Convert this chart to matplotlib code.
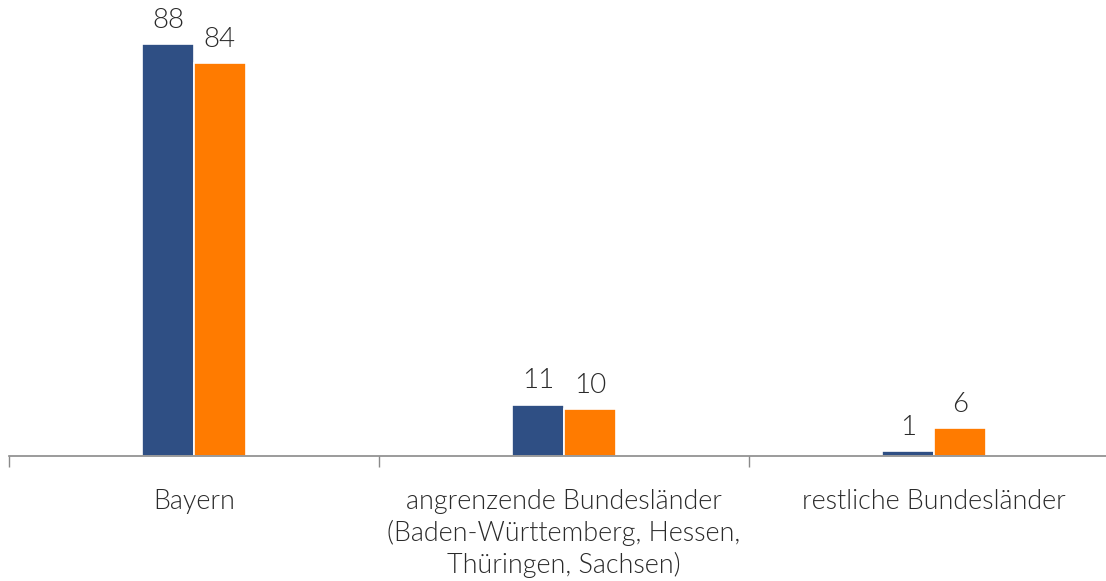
import numpy as np
import matplotlib
matplotlib.use("Agg")
import matplotlib.pyplot as plt
from matplotlib import font_manager as fm

categories = ["Bayern",
              "angrenzende Bundesländer\n(Baden-Württemberg, Hessen,\nThüringen, Sachsen)",
              "restliche Bundesländer"]
series_a = [88, 11, 1]
series_b = [84, 10, 6]
color_a = "#2f4f84"
color_b = "#ff7b00"
text_color = "#2a2a2a"

# Lato Light, picked by file so the weight lookup can't fall to ExtraLight/Thin
light = [f.fname for f in fm.fontManager.ttflist if f.fname.endswith("Lato-Light.ttf")]
if light:
    tick_font = fm.FontProperties(fname=light[0], size=19.4)
    value_font = fm.FontProperties(fname=light[0], size=20)
else:
    tick_font = fm.FontProperties(family="DejaVu Sans", size=17)
    value_font = fm.FontProperties(family="DejaVu Sans", size=18)

fig = plt.figure(figsize=(11.06, 5.81), dpi=100)
ax = fig.add_axes([9 / 1106, 125 / 581, 1110 / 1106, 456 / 581])

x = np.arange(len(categories))
w = 0.14
bars_a = ax.bar(x - w / 2, series_a, w, color=color_a, edgecolor="white", linewidth=1.2)
bars_b = ax.bar(x + w / 2, series_b, w, color=color_b, edgecolor="white", linewidth=1.2)

for bars in (bars_a, bars_b):
    for b in bars:
        ax.annotate(f"{b.get_height():g}", (b.get_x() + b.get_width() / 2, b.get_height()),
                    xytext=(0, 8), textcoords="offset points", ha="center", va="bottom",
                    fontproperties=value_font, color=text_color)

ax.set_xlim(-0.5, 2.5)
ax.set_ylim(0, 97.4)
ax.set_xticks(x)
ax.set_xticklabels(categories, color=text_color, linespacing=1.27)
for lbl in ax.get_xticklabels():
    lbl.set_fontproperties(tick_font)
ax.tick_params(axis="x", which="major", length=0, pad=24)
ax.set_xticks(np.arange(-0.5, 3.0, 1.0), minor=True)
ax.tick_params(axis="x", which="minor", length=8, color="#8a8a8a", width=1)
ax.set_yticks([])
for s in ("top", "right", "left"):
    ax.spines[s].set_visible(False)
ax.spines["bottom"].set_color("#8a8a8a")
ax.spines["bottom"].set_linewidth(1.2)

fig.savefig("out.png", dpi=100)
